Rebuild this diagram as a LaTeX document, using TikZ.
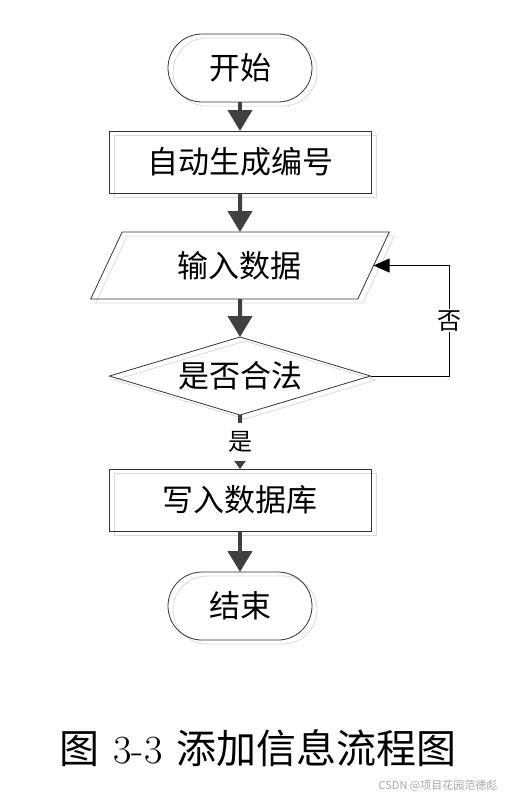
\documentclass[tikz,border=0pt]{standalone}
\usepackage{fontspec}
\newfontfamily\cjk{Noto Sans CJK SC}
\usetikzlibrary{positioning,shapes.geometric,shadows,arrows.meta}

\begin{document}
\begin{tikzpicture}[x=1bp,y=-1bp,
  base/.style={draw=black!80, line width=0.8bp, outer sep=0pt, inner sep=0pt,
    font=\cjk\fontsize{31bp}{34bp}\selectfont,
    general shadow={shadow xshift=5bp, shadow yshift=-4bp, draw=black!15, line width=0.8bp}},
  term/.style={base, rectangle, rounded corners=34bp, minimum width=144bp, minimum height=68bp},
  proc/.style={base, rectangle, minimum width=262bp, minimum height=62bp},
  io/.style={base, trapezium, trapezium left angle=60, trapezium right angle=120,
    trapezium stretches=true, minimum width=299bp, minimum height=67bp},
  decide/.style={base, diamond, aspect=3.35, minimum width=261bp, minimum height=78bp},
  flow/.style={draw=black!75, line width=4bp, -{Triangle[width=24bp,length=21bp]}},
  lab/.style={font=\cjk\fontsize{24bp}{26bp}\selectfont, fill=white, inner sep=1bp}]

\useasboundingbox (0,0) rectangle (514,801);

\node[term]		(start)		at (240,68)	{开始};
\node[proc, below = 29bp of start]		(gen)		{自动生成编号};
\node[io, below = 39bp of gen]		(input)		{输入数据};
\node[decide, below = 38bp of input]		(check)		{是否合法};
\node[proc, below = 54bp of check]		(save)		{写入数据库};
\node[term, below = 41bp of save]		(stop)		{结束};

\draw[flow] (start) -- (gen);
\draw[flow] (gen) -- (input);
\draw[flow] (input) -- (check);
\draw[draw=black!75, line width=4bp, -{Triangle[width=11bp,length=8bp]}]
  (check) -- node[lab, minimum height=38bp] {是} (save);
\draw[flow] (save) -- (stop);
% back to input when not valid
\draw[black, line width=1bp, -{Triangle[width=14bp,length=16bp]}]
  (check.east) -- ++(79bp,0) |- node[lab, pos=0.25] {否} (input.east);

% caption
\node[font=\cjk\fontsize{40bp}{42bp}\selectfont] (cap) at (258,748)
  {图\hspace{14bp}{\rmfamily 3-3}\hspace{14bp}添加信息流程图};
\node[font=\cjk\fontsize{11bp}{12bp}\selectfont, text=black!35] (mark) at (438,786) {CSDN @项目花园范德彪};
\end{tikzpicture}
\end{document}
